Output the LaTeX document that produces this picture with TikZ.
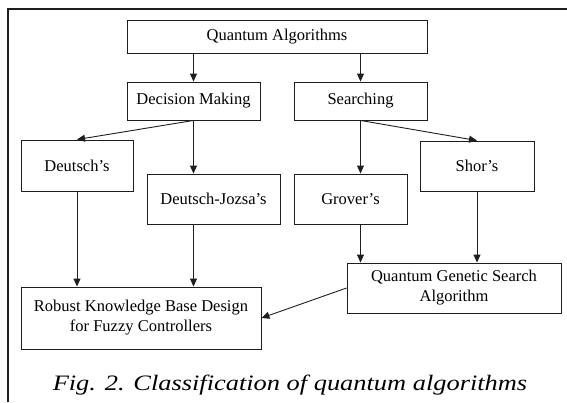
\documentclass[tikz,border=0pt]{standalone}
\usepackage{fontspec}
\setmainfont{Liberation Serif}
\newfontfamily\capfont[FakeStretch=1.2]{Liberation Serif}
\usetikzlibrary{arrows.meta, positioning, calc}
\definecolor{lineblack}{RGB}{30,30,30}

\tikzset{
    algobox/.style={draw=lineblack, line width=0.9pt, rectangle, inner sep=0pt, align=center,
        font=\fontsize{16.5}{20}\selectfont},
    arr/.style={draw=lineblack, line width=0.9pt, -{Triangle[length=8pt, width=7pt]}}
}

\begin{document}
\begin{tikzpicture}[x=1pt, y=-1pt]
        \useasboundingbox (0,0) rectangle (567,402);

        % Frame
        \draw[line width=1.5pt, lineblack] (8,402) -- (8,9) -- (567,9);

        % Top level
        \node[algobox, minimum width=300pt, minimum height=33pt] (qa) at (277,36.5) {Quantum Algorithms};

        % Classes
        \node[algobox, minimum width=133pt, minimum height=38pt] (dm) at (193.5,101) {Decision Making};
        \node[algobox, minimum width=133pt, minimum height=38pt] (se) at (360.5,101) {Searching};

        % Algorithms
        \node[algobox, minimum width=112pt, minimum height=51pt] (de) at (77,165.5) {Deutsch's};
        \node[algobox, minimum width=133pt, minimum height=50pt] (dj) at (213.5,199) {Deutsch-Jozsa's};
        \node[algobox, minimum width=113pt, minimum height=50pt] (gr) at (350.5,199) {Grover's};
        \node[algobox, minimum width=114pt, minimum height=50pt] (sh) at (477,166) {Shor's};

        % Applications
        \node[algobox, minimum width=214pt, minimum height=50pt] (qg) at (454,288) {Quantum Genetic Search\\Algorithm};
        \node[algobox, minimum width=240pt, minimum height=62pt] (rk) at (141,318) {Robust Knowledge Base Design\\for Fuzzy Controllers};

        % Arrows
        \draw[arr] (qa.south -| dm.north) -- (dm.north);
        \draw[arr] (qa.south -| se.north) -- (se.north);
        \draw[arr] (dm.south) -- (de.north);
        \draw[arr] (dm.south) -- (dm.south |- dj.north);
        \draw[arr] (se.south) -- (se.south |- gr.north);
        \draw[arr] (se.south) -- (sh.north);
        \draw[arr] (de.south) -- (de.south |- rk.north);
        \draw[arr] (dm.south |- dj.south) -- (dm.south |- rk.north);
        \draw[arr] (se.south |- gr.south) -- (se.south |- qg.north);
        \draw[arr] (sh.south) -- (sh.south |- qg.north);
        \draw[arr] (qg.west) -- (rk.east);

        % Caption
        \node[anchor=base, inner sep=0pt, font=\capfont\itshape\fontsize{22}{26}\selectfont] (cap) at (290,390) {Fig. 2. Classification of quantum algorithms};
    \end{tikzpicture}
\end{document}
